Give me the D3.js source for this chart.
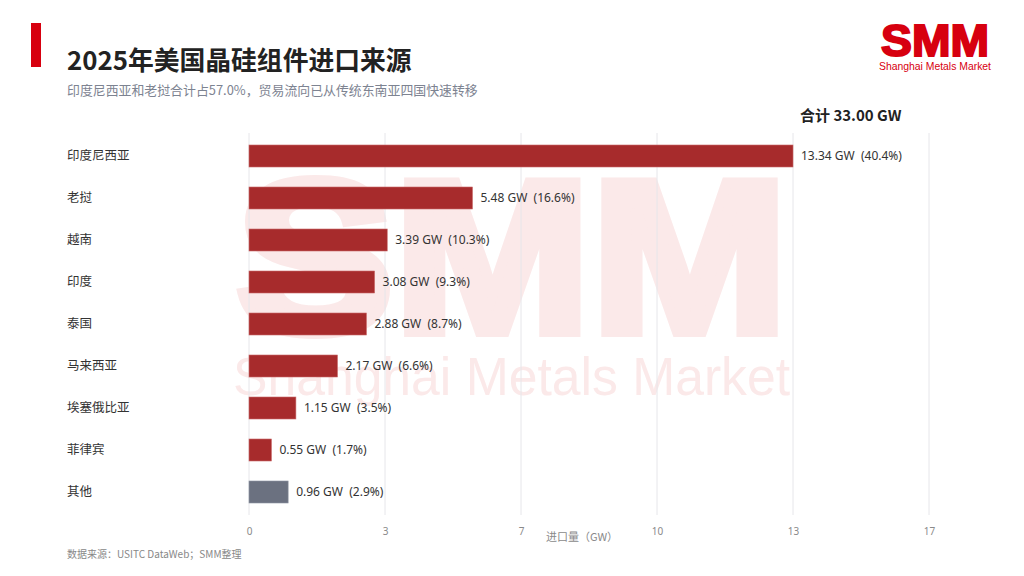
<!DOCTYPE html>
<html><head><meta charset="utf-8">
<script src="https://cdn.jsdelivr.net/npm/d3@7/dist/d3.min.js"></script>
<style>
html,body{margin:0;padding:0;background:#fff;}
svg{display:block;font-family:"Noto Sans CJK SC","Noto Sans",sans-serif;}
</style></head>
<body>
<svg id="chart" width="1024" height="576"></svg>
<script>
const categories = ["印度尼西亚","老挝","越南","印度","泰国","马来西亚","埃塞俄比亚","菲律宾","其他"];
const values = [13.34, 5.48, 3.39, 3.08, 2.88, 2.17, 1.15, 0.55, 0.96];
const shares = [40.4, 16.6, 10.3, 9.3, 8.7, 6.6, 3.5, 1.7, 2.9];
const isOther = [false,false,false,false,false,false,false,false,true];
const total = 33.00;
const tickCount = 5;

(function(){
const svg = d3.select("#chart");
const plotLeft = 249, plotRight = 929, plotTop = 135, plotBottom = 513;

// watermark
const wm = svg.append("g").attr("fill","#fbe9e9");
wm.append("text").attr("x",236).attr("y",332)
  .attr("font-family","Liberation Sans, Arial, sans-serif").attr("font-weight",700)
  .attr("stroke","#fbe9e9").attr("stroke-width",10).attr("stroke-linejoin","miter")
  .attr("font-size",218).attr("textLength",552).attr("lengthAdjust","spacingAndGlyphs").text("SMM");
wm.append("text").attr("x",233).attr("y",395)
  .attr("font-family","Liberation Sans, Arial, sans-serif")
  .attr("font-size",54).attr("textLength",557).attr("lengthAdjust","spacingAndGlyphs").text("Shanghai Metals Market");

const maxV = d3.max(values) * 1.25;
const x = d3.scaleLinear().domain([0, maxV]).range([plotLeft, plotRight]);
const y = d3.scaleBand().domain(categories).range([plotTop, plotBottom]).paddingInner(0.476).paddingOuter(0.238);

const ticks = d3.range(tickCount + 1).map(i => maxV * i / tickCount);

// grid
svg.append("g").selectAll("line").data(ticks).join("line")
  .attr("x1", d => x(d)).attr("x2", d => x(d))
  .attr("y1", 133).attr("y2", 515)
  .attr("stroke", "#e6e6ea").attr("stroke-width", 1);

// axis
const axis = d3.axisBottom(x).tickValues(ticks).tickFormat(d => d3.format(".0f")(d)).tickSize(0).tickPadding(0);
const ax = svg.append("g").attr("transform", "translate(0,528)").call(axis);
ax.select(".domain").remove();
ax.selectAll("text").attr("fill", "#8a8a8a").attr("font-size", 10).attr("font-family","Noto Sans, sans-serif");

svg.append("text").attr("x", 582).attr("y", 541).attr("text-anchor","middle")
  .attr("fill","#8a8a8a").attr("font-size",11).text("进口量（GW）");

// bars
svg.append("g").selectAll("rect").data(categories).join("rect")
  .attr("x", x(0)).attr("y", d => y(d))
  .attr("width", (d,i) => x(values[i]) - x(0))
  .attr("height", y.bandwidth())
  .attr("fill", (d,i) => isOther[i] ? "#6b7180" : "#a72b2c")
  .attr("stroke", (d,i) => isOther[i] ? "#9097a3" : "#c96a6a").attr("stroke-width", 0.6);

// category labels
svg.append("g").selectAll("text").data(categories).join("text")
  .attr("x", 67).attr("y", d => y(d) + y.bandwidth()/2).attr("dy","0.35em")
  .attr("fill","#333").attr("font-size",12.5).text(d => d);

// value labels
svg.append("g").selectAll("text").data(categories).join("text")
  .attr("x", (d,i) => x(values[i]) + 8).attr("y", d => y(d) + y.bandwidth()/2).attr("dy","0.35em")
  .attr("fill","#333").attr("font-size",12).attr("font-family","Noto Sans, sans-serif")
  .style("white-space","pre")
  .text((d,i) => values[i].toFixed(2) + " GW  (" + shares[i].toFixed(1) + "%)");

// total
svg.append("text").attr("x", 800).attr("y", 121).attr("fill","#222").attr("font-size",15).attr("font-weight",700)
  .text("合计 " + total.toFixed(2) + " GW");

// title block
svg.append("rect").attr("x",31).attr("y",23).attr("width",10).attr("height",44).attr("fill","#d7000f");
svg.append("text").attr("x",67).attr("y",70).attr("fill","#222").attr("font-size",25.8).attr("font-weight",700)
  .text("2025年美国晶硅组件进口来源");
svg.append("text").attr("x",67).attr("y",95).attr("fill","#7d8391").attr("font-size",12.9)
  .text("印度尼西亚和老挝合计占57.0%，贸易流向已从传统东南亚四国快速转移");

// footer
svg.append("text").attr("x",67).attr("y",558).attr("fill","#888").attr("font-size",10)
  .text("数据来源：USITC DataWeb；SMM整理");

// logo
const logo = svg.append("g").attr("fill","#d7000f");
logo.append("text").attr("x",881).attr("y",56)
  .attr("font-family","Liberation Sans, Arial, sans-serif").attr("font-weight",700)
  .attr("stroke","#d7000f").attr("stroke-width",2)
  .attr("font-size",44).attr("textLength",108).attr("lengthAdjust","spacingAndGlyphs").text("SMM");
logo.append("text").attr("x",879).attr("y",70)
  .attr("font-family","Liberation Sans, Arial, sans-serif")
  .attr("font-size",11).attr("textLength",112).attr("lengthAdjust","spacingAndGlyphs").text("Shanghai Metals Market");
})();
</script>
</body></html>
